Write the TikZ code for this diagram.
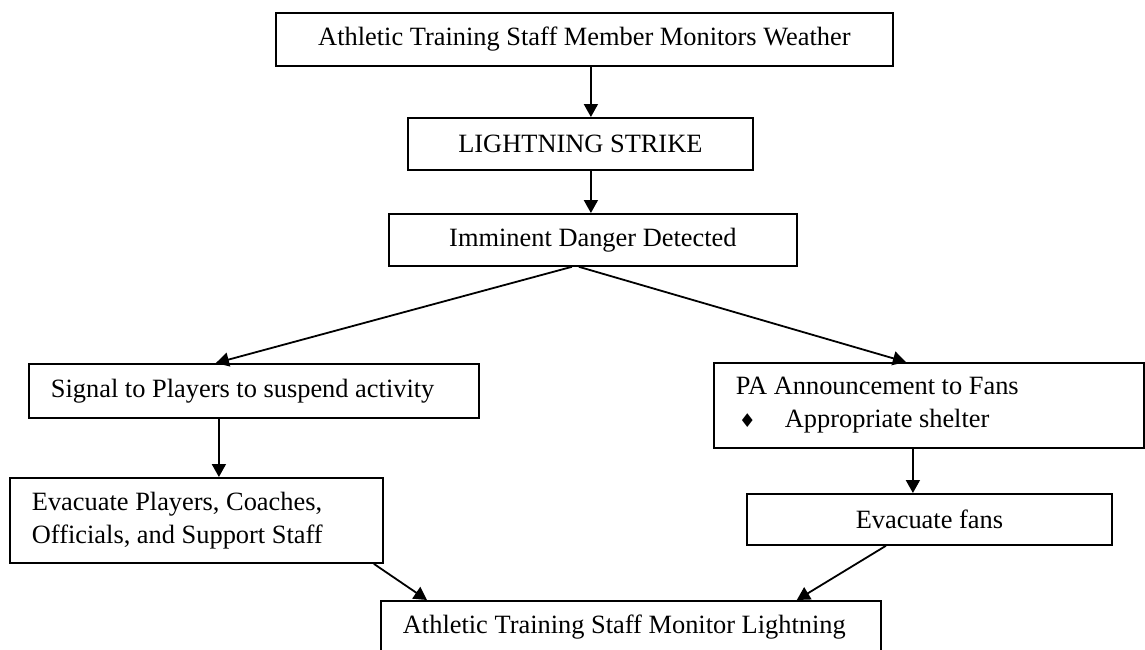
\documentclass[tikz,border=0pt]{standalone}
\usepackage{fontspec}
\setmainfont{Liberation Serif}
\newfontfamily\symfont{DejaVu Sans}
\usetikzlibrary{arrows.meta}
\begin{document}
\begin{tikzpicture}[x=1pt,y=-1pt,
  box/.style={draw, line width=1.8pt, anchor=north west, inner ysep=0pt,
    font=\fontsize{26.4}{33}\selectfont,
    execute at begin node={\spaceskip=0pt\xspaceskip=0pt\relax}},
  cbox/.style={box, inner xsep=0pt, align=center},
  lbox/.style={box, inner xsep=22pt, align=left},
  arr/.style={line width=1.8pt, -{Triangle[width=14pt,length=13pt]}}]
\useasboundingbox (0,0) rectangle (1145,649);
\fill[white] (0,0) rectangle (1145,649);

\node[cbox, minimum width=617pt, minimum height=53pt] (top) at (275,12)
  {Athletic Training Staff Member Monitors Weather};
\node[cbox, minimum width=345pt, minimum height=52pt] (strike) at (407,117)
  {LIGHTNING STRIKE};
\node[cbox, minimum width=408pt, minimum height=52pt] (danger) at (388,213)
  {Imminent Danger Detected};
\node[lbox, text width=406pt, minimum height=54pt] (signal) at (28,363)
  {Signal to Players to suspend activity};
\node[lbox, text width=386pt, minimum height=85pt] (pa) at (713,362)
  {PA Announcement to Fans\\
   \makebox[49pt][l]{\hspace{3pt}{\symfont\fontsize{19}{19}\selectfont ♦}}Appropriate shelter};
\node[lbox, text width=329pt, minimum height=85pt] (evacp) at (9,477)
  {Evacuate Players, Coaches,\\Officials, and Support Staff};
\node[cbox, minimum width=365pt, minimum height=51pt] (evacf) at (746,493)
  {Evacuate fans};
\node[lbox, text width=456pt, minimum height=52pt] (monitor) at (380,600)
  {Athletic Training Staff Monitor Lightning};

\draw[arr] ([xshift=6.5pt]top.south) -- ([xshift=10.5pt]strike.north);
\draw[arr] ([xshift=10.5pt]strike.south) -- ([xshift=-2pt]danger.north);
\draw[arr] ([xshift=-21pt]danger.south) -- ([xshift=-38pt]signal.north);
\draw[arr] ([xshift=-14pt]danger.south) -- ([xshift=-23pt]pa.north);
\draw[arr] ([xshift=-35pt]signal.south) -- ([xshift=22.5pt]evacp.north);
\draw[arr] ([xshift=-16pt]pa.south) -- ([xshift=-16.5pt]evacf.north);
\draw[arr] ([xshift=-10pt]evacp.south east) -- ([xshift=47pt]monitor.north west);
\draw[arr] ([xshift=-43.5pt]evacf.south) -- ([xshift=-85pt]monitor.north east);
\end{tikzpicture}
\end{document}
